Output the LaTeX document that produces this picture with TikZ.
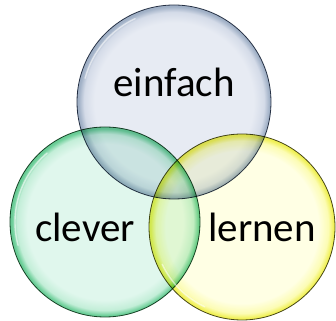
\documentclass[tikz,border=0pt]{standalone}
\usepackage{fontspec}
\setmainfont{Carlito}
\definecolor{bluein}{RGB}{231,235,243}
\definecolor{bluemid}{RGB}{212,219,232}
\definecolor{blueout}{RGB}{160,176,198}
\definecolor{blueline}{RGB}{50,62,80}
\definecolor{greenin}{RGB}{224,247,237}
\definecolor{greenmid}{RGB}{195,238,216}
\definecolor{greenout}{RGB}{105,205,150}
\definecolor{greenline}{RGB}{35,75,50}
\definecolor{yellowin}{RGB}{255,255,228}
\definecolor{yellowmid}{RGB}{252,252,180}
\definecolor{yellowout}{RGB}{240,240,85}
\definecolor{yellowline}{RGB}{75,75,35}
\pgfdeclareradialshading{blueball}{\pgfpoint{0bp}{0bp}}{color(0bp)=(bluein); color(20.5bp)=(bluein); color(23.2bp)=(bluemid); color(24.6bp)=(blueout); color(25bp)=(blueout); color(50bp)=(blueout)}
\pgfdeclareradialshading{greenball}{\pgfpoint{0bp}{0bp}}{color(0bp)=(greenin); color(20.5bp)=(greenin); color(23.2bp)=(greenmid); color(24.6bp)=(greenout); color(25bp)=(greenout); color(50bp)=(greenout)}
\pgfdeclareradialshading{yellowball}{\pgfpoint{0bp}{0bp}}{color(0bp)=(yellowin); color(20.5bp)=(yellowin); color(23.2bp)=(yellowmid); color(24.6bp)=(yellowout); color(25bp)=(yellowout); color(50bp)=(yellowout)}
\tikzset{
  ball/.style={circle, inner sep=0pt, minimum size=#1, line width=0.8pt},
  word/.style={font=\fontsize{41}{41}\selectfont, text=black, anchor=base, inner sep=0pt},
  gloss/.style={white, line width=1.4pt, opacity=0.55, line cap=round}
}
\begin{document}
\begin{tikzpicture}[x=1pt,y=1pt]
\useasboundingbox (0,0) rectangle (336,320);
\fill[white] (0,0) rectangle (336,320);
\begin{scope}[blend group=multiply]
  \node[ball=190pt, shading=greenball, draw=greenline] (g) at (105,98) {};
  \node[ball=186pt, shading=yellowball, draw=yellowline] (y) at (242,93) {};
  \node[ball=194pt, shading=blueball, draw=blueline] (b) at (174,218) {};
\end{scope}
\draw[gloss] (b.center) ++(115:92) arc[start angle=115, end angle=165, radius=92];
\draw[gloss] (g.center) ++(130:90) arc[start angle=130, end angle=195, radius=90];
\draw[gloss] (y.center) ++(205:88) arc[start angle=205, end angle=245, radius=88];
\node[word] (t1) at (174,223) {einfach};
\node[word] (t2) at (85,78) {clever};
\node[word] (t3) at (262,78) {lernen};
\end{tikzpicture}
\end{document}
